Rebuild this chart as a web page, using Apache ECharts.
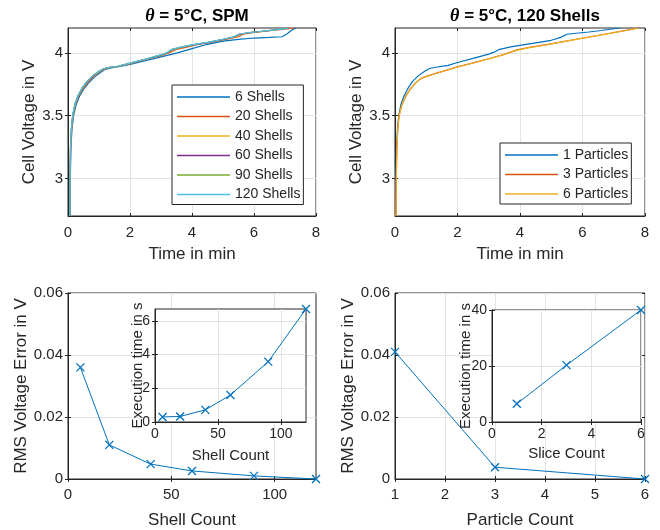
<!DOCTYPE html>
<html><head><meta charset="utf-8">
<script src="https://cdn.jsdelivr.net/npm/echarts@6/dist/echarts.min.js"></script>
<style>html,body{margin:0;padding:0;background:#fff}#c{width:660px;height:530px}</style>
</head><body><div id="c"></div>
<script>
// ---------- data ----------
const shellNames = ['6 Shells','20 Shells','40 Shells','60 Shells','90 Shells','120 Shells'];
const shell6 = [[0.07,2.7],[0.075,3.0],[0.095,3.25],[0.13,3.4],[0.18,3.5],[0.26,3.585],[0.37,3.655],[0.5,3.71],[0.66,3.76],[0.86,3.81],[1.05,3.845],[1.2,3.87],[1.35,3.88],[1.6,3.89],[2.0,3.91],[2.5,3.94],[3.0,3.97],[3.5,4.0],[4.0,4.035],[4.5,4.07],[5.0,4.095],[5.5,4.11],[6.0,4.12],[6.5,4.125],[6.9,4.13],[7.05,4.15],[7.2,4.18],[7.35,4.2]];
const shell20 = [[0.065,2.7],[0.07,3.0],[0.087,3.25],[0.12,3.4],[0.165,3.5],[0.24,3.587],[0.345,3.657],[0.48,3.715],[0.63,3.765],[0.83,3.815],[1.02,3.85],[1.17,3.872],[1.32,3.883],[1.6,3.893],[2.0,3.915],[2.5,3.947],[3.0,3.98],[3.3,4.005],[3.5,4.03],[3.8,4.045],[4.2,4.07],[4.7,4.09],[5.2,4.115],[5.5,4.13],[5.65,4.15],[6.0,4.165],[6.5,4.178],[7.0,4.19],[7.3,4.2]];
const shell40 = [[0.062,2.7],[0.067,3.0],[0.083,3.25],[0.115,3.4],[0.156,3.5],[0.228,3.589],[0.33,3.66],[0.46,3.718],[0.61,3.768],[0.81,3.818],[1.01,3.853],[1.16,3.874],[1.31,3.884],[1.6,3.894],[2.0,3.918],[2.5,3.95],[3.0,3.983],[3.25,4.005],[3.42,4.03],[3.7,4.046],[4.1,4.067],[4.6,4.087],[5.1,4.112],[5.42,4.13],[5.58,4.15],[5.9,4.163],[6.3,4.174],[6.7,4.185],[7.1,4.197],[7.2,4.2]];
const shell60 = [[0.061,2.7],[0.066,3.0],[0.081,3.25],[0.112,3.4],[0.152,3.5],[0.224,3.59],[0.325,3.66],[0.455,3.72],[0.605,3.769],[0.805,3.819],[1.005,3.854],[1.155,3.875],[1.305,3.885],[1.6,3.895],[2.0,3.919],[2.5,3.951],[3.0,3.984],[3.22,4.005],[3.38,4.03],[3.65,4.046],[4.05,4.066],[4.55,4.086],[5.05,4.111],[5.38,4.13],[5.54,4.15],[5.85,4.163],[6.25,4.173],[6.65,4.184],[7.05,4.196],[7.15,4.2]];
const shell90 = [[0.06,2.7],[0.065,3.0],[0.08,3.25],[0.11,3.4],[0.15,3.5],[0.222,3.59],[0.322,3.66],[0.452,3.72],[0.602,3.77],[0.802,3.82],[1.002,3.855],[1.152,3.875],[1.302,3.885],[1.6,3.895],[2.0,3.92],[2.5,3.952],[3.0,3.985],[3.2,4.005],[3.36,4.03],[3.61,4.045],[4.0,4.065],[4.5,4.085],[5.0,4.11],[5.36,4.13],[5.51,4.15],[5.81,4.162],[6.2,4.172],[6.6,4.183],[7.0,4.195],[7.1,4.2]];
const shell120 = [[0.06,2.7],[0.065,3.0],[0.08,3.25],[0.11,3.4],[0.15,3.5],[0.22,3.59],[0.32,3.66],[0.45,3.72],[0.6,3.77],[0.8,3.82],[1.0,3.855],[1.15,3.875],[1.3,3.885],[1.6,3.895],[2.0,3.92],[2.5,3.952],[3.0,3.985],[3.2,4.005],[3.35,4.03],[3.6,4.045],[4.0,4.065],[4.5,4.085],[5.0,4.11],[5.35,4.13],[5.5,4.15],[5.8,4.162],[6.2,4.172],[6.6,4.183],[7.0,4.195],[7.1,4.2]];

const particleNames = ['1 Particles','3 Particles','6 Particles'];
const part1 = [[0.03,2.7],[0.035,3.0],[0.05,3.25],[0.08,3.4],[0.12,3.5],[0.19,3.59],[0.29,3.66],[0.42,3.72],[0.55,3.77],[0.75,3.82],[0.95,3.855],[1.1,3.877],[1.3,3.887],[1.7,3.902],[2.0,3.925],[2.5,3.958],[3.0,3.992],[3.15,4.005],[3.35,4.03],[3.7,4.05],[4.0,4.062],[4.5,4.082],[5.0,4.102],[5.3,4.125],[5.5,4.15],[5.8,4.158],[6.2,4.168],[6.6,4.18],[7.0,4.194],[7.2,4.2]];
const part3 = [[0.03,2.7],[0.04,3.0],[0.06,3.25],[0.09,3.4],[0.13,3.5],[0.21,3.58],[0.33,3.65],[0.48,3.71],[0.65,3.76],[0.8,3.792],[0.95,3.81],[1.2,3.83],[1.6,3.86],[2.0,3.89],[2.5,3.922],[3.0,3.955],[3.5,3.99],[3.9,4.025],[4.3,4.045],[4.8,4.065],[5.3,4.088],[5.8,4.11],[6.3,4.132],[6.8,4.154],[7.3,4.177],[7.8,4.2]];
const part6 = [[0.032,2.7],[0.042,3.0],[0.062,3.25],[0.092,3.4],[0.132,3.5],[0.212,3.579],[0.332,3.649],[0.482,3.709],[0.652,3.759],[0.802,3.791],[0.952,3.809],[1.2,3.829],[1.6,3.859],[2.0,3.889],[2.5,3.921],[3.0,3.954],[3.5,3.989],[3.92,4.024],[4.3,4.044],[4.8,4.064],[5.3,4.087],[5.8,4.109],[6.3,4.131],[6.8,4.153],[7.3,4.176],[7.8,4.2]];

const shellCount = [6, 20, 40, 60, 90, 120];
const shellRms = [0.036, 0.011, 0.0048, 0.0026, 0.001, 0];
const shellExec = [0.3, 0.33, 0.72, 1.6, 3.58, 6.7];

const particleCount = [1, 3, 6];
const particleRms = [0.041, 0.0038, 0];
const sliceCount = [1, 3, 6];
const sliceExec = [6.5, 20.3, 40];

const voltTicks = [3, 3.5, 4];

// ---------- styles ----------
const FONT = 'Liberation Sans, Arial, Helvetica, sans-serif';
const AX = '#262626';
const GRIDC = '#e3e3e3';
const C1 = '#0072BD';
const shellColors = ['#0072BD','#D95319','#EDB120','#7E2F8E','#77AC30','#4DBEEE'];
const partColors = ['#0072BD','#D95319','#EDB120'];
const CROSS = 'path://M0,0L10,10M0,10L10,0';

const grids = [
  {left: 68, top: 28, width: 248, height: 188},
  {left: 395, top: 28, width: 250, height: 188},
  {left: 68, top: 293, width: 248, height: 187},
  {left: 395, top: 293, width: 250, height: 187},
  {left: 155, top: 309, width: 151, height: 113, z: 5},
  {left: 492, top: 310, width: 149, height: 112, z: 5}
].map(g => Object.assign({show: true, backgroundColor: '#fff', borderColor: AX, borderWidth: 1, containLabel: false}, g));

function mainAxis(kind, gi, o) {
  const inset = gi >= 4;
  const z = inset ? 6 : 0;
  const fs = inset ? 14 : 15;
  const ax = {
    type: 'value', gridIndex: gi, min: o.min, max: o.max, z: z,
    name: o.name, nameLocation: 'middle', nameGap: o.gap, nameMoveOverlap: false,
    nameTextStyle: {fontFamily: FONT, fontSize: inset ? 15 : 17, color: AX},
    axisLine: {show: true, onZero: false, lineStyle: {color: AX, width: 1}},
    axisTick: {show: true, inside: true, length: 3, lineStyle: {color: AX}},
    axisLabel: {show: true, fontFamily: FONT, fontSize: fs, color: AX, margin: o.margin,
      showMinLabel: true, showMaxLabel: true},
    splitLine: {show: true, lineStyle: {color: GRIDC, width: 1}}
  };
  if (o.interval !== undefined) ax.interval = o.interval;
  if (o.custom) {
    ax.axisTick.customValues = o.custom;
    ax.axisLabel.customValues = o.custom;
    ax.splitLine.customValues = o.custom;
  }
  if (kind === 'y') { ax.position = 'left'; ax.nameRotate = 90; }
  else { ax.position = 'bottom'; }
  return ax;
}
function mirrorAxis(kind, gi, o) {
  const ax = {
    type: 'value', gridIndex: gi, min: o.min, max: o.max, z: gi >= 4 ? 6 : 0,
    position: kind === 'y' ? 'right' : 'top',
    axisLine: {show: false},
    axisTick: {show: true, inside: true, length: 3, lineStyle: {color: AX}},
    axisLabel: {show: false},
    splitLine: {show: false}
  };
  if (o.interval !== undefined) ax.interval = o.interval;
  if (o.custom) ax.axisTick.customValues = o.custom;
  return ax;
}

const xDefs = [
  {min: 0, max: 8, interval: 2, name: 'Time in min', gap: 30, margin: 9},
  {min: 0, max: 8, interval: 2, name: 'Time in min', gap: 30, margin: 9},
  {min: 0, max: 120, custom: [0, 50, 100], name: 'Shell Count', gap: 33, margin: 8},
  {min: 1, max: 6, interval: 1, name: 'Particle Count', gap: 33, margin: 8},
  {min: 0, max: 120, custom: [0, 50, 100], name: 'Shell Count', gap: 26, margin: 5},
  {min: 0, max: 6, interval: 2, name: 'Slice Count', gap: 24, margin: 5}
];
const yDefs = [
  {min: 2.7, max: 4.2, custom: voltTicks, name: 'Cell Voltage in V', gap: 30, margin: 5},
  {min: 2.7, max: 4.2, custom: voltTicks, name: 'Cell Voltage in V', gap: 30, margin: 5},
  {min: 0, max: 0.06, interval: 0.02, name: 'RMS Voltage Error in V', gap: 38, margin: 5},
  {min: 0, max: 0.06, interval: 0.02, name: 'RMS Voltage Error in V', gap: 38, margin: 5},
  {min: 0, max: 6.7, custom: [0, 2, 4, 6], name: 'Execution time in s', gap: 10, margin: 5},
  {min: 0, max: 40, interval: 20, name: 'Execution time in s', gap: 19, margin: 5}
];

const xAxis = xDefs.map((d, i) => mainAxis('x', i, d)).concat(xDefs.map((d, i) => mirrorAxis('x', i, d)));
const yAxis = yDefs.map((d, i) => mainAxis('y', i, d)).concat(yDefs.map((d, i) => mirrorAxis('y', i, d)));

const series = [];
[shell6, shell20, shell40, shell60, shell90, shell120].forEach((d, i) => {
  series.push({type: 'line', name: shellNames[i], xAxisIndex: 0, yAxisIndex: 0, data: d,
    symbol: 'none', smooth: false, color: shellColors[i],
    lineStyle: {color: shellColors[i], width: 1.2}, animation: false});
});
[part1, part3, part6].forEach((d, i) => {
  series.push({type: 'line', name: particleNames[i], xAxisIndex: 1, yAxisIndex: 1, data: d,
    symbol: 'none', color: partColors[i],
    lineStyle: {color: partColors[i], width: 1.2}, animation: false});
});
function markedLine(xs, ys, xi, yi, z) {
  return {type: 'line', xAxisIndex: xi, yAxisIndex: yi, data: xs.map((x, k) => [x, ys[k]]),
    symbol: CROSS, symbolSize: 8, showAllSymbol: true, clip: false, z: z,
    lineStyle: {color: C1, width: 1},
    itemStyle: {color: 'none', borderColor: C1, borderWidth: 1.3},
    emphasis: {disabled: true}, animation: false};
}
series.push(markedLine(shellCount, shellRms, 2, 2, 2));
series.push(markedLine(particleCount, particleRms, 3, 3, 2));
series.push(markedLine(shellCount, shellExec, 4, 4, 7));
series.push(markedLine(sliceCount, sliceExec, 5, 5, 7));

const legendCommon = {
  orient: 'vertical', icon: 'rect', itemWidth: 53, itemHeight: 1.6, itemGap: 3.5,
  borderColor: AX, borderWidth: 1, backgroundColor: '#fff', borderRadius: 0,
  textStyle: {fontFamily: FONT, fontSize: 14, color: AX, lineHeight: 16},
  selectedMode: false, z: 10
};
const legend = [
  Object.assign({}, legendCommon, {data: shellNames, left: 172, top: 85, padding: [4, 3, 2, 5]}),
  Object.assign({}, legendCommon, {data: particleNames, left: 500, top: 143, padding: [4, 3, 2, 5]})
];

const titleStyle = {fontFamily: FONT, fontSize: 17, fontWeight: 'bold', color: '#000',
  rich: {t: {fontFamily: 'Liberation Serif, DejaVu Serif, serif', fontStyle: 'italic', fontWeight: 'bold', fontSize: 18, color: '#000'}}};
const title = [
  {text: '{t|θ} = 5°C, SPM', left: 192, top: 2, textAlign: 'center', textStyle: titleStyle},
  {text: '{t|θ} = 5°C, 120 Shells', left: 520, top: 2, textAlign: 'center', textStyle: titleStyle}
];

const chart = echarts.init(document.getElementById('c'), null, {renderer: 'canvas'});
chart.setOption({
  backgroundColor: '#fff', animation: false,
  title: title, legend: legend, grid: grids, xAxis: xAxis, yAxis: yAxis, series: series
});
</script></body></html>
